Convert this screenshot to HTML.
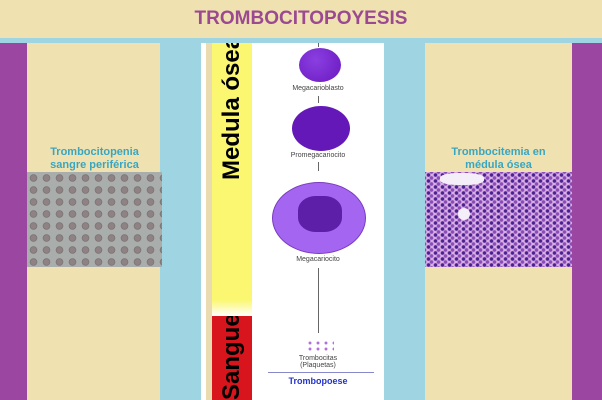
<!DOCTYPE html>
<html><head><style>
*{margin:0;padding:0}
html,body{width:602px;height:400px;overflow:hidden}
body{position:relative;background:#efe2b0;font-family:"Liberation Sans",sans-serif}
div{position:absolute}
.t{font-weight:bold;text-align:center}
.l{font-size:7px;color:#444;text-align:center;width:120px}
</style></head><body>
<div class="t" style="left:0;top:8px;width:602px;font-size:19px;color:#9b4a92">TROMBOCITOPOYESIS</div>
<div style="left:0;top:38px;width:602px;height:5px;background:#9fd5e3"></div>
<div style="left:0;top:43px;width:27px;height:357px;background:#9b46a0"></div>
<div style="left:572px;top:43px;width:30px;height:357px;background:#9b46a0"></div>
<div style="left:160px;top:43px;width:265px;height:357px;background:#9fd5e3"></div>
<div style="left:201px;top:43px;width:183px;height:357px;background:#fff"></div>
<div style="left:206px;top:43px;width:6px;height:357px;background:#eadcb0"></div>
<div style="left:212px;top:43px;width:40px;height:262px;background:#fbf770"></div>
<div style="left:212px;top:300px;width:40px;height:16px;background:linear-gradient(#fbf770,#fff)"></div>
<div style="left:212px;top:316px;width:40px;height:84px;background:#d8141c"></div>
<div style="left:212px;top:43px;width:40px;height:140px;overflow:hidden"><div style="left:-65px;top:37px;width:170px;height:30px;transform:rotate(-90deg);font-size:24px;font-weight:bold;text-align:left;color:#000;line-height:30px;white-space:nowrap">Medula ósea</div></div>
<div style="left:212px;top:316px;width:40px;height:84px;overflow:hidden"><div style="left:-40px;top:9px;width:120px;height:30px;transform:rotate(-90deg);font-size:24px;font-weight:bold;text-align:left;color:#000;line-height:30px;white-space:nowrap">Sangue</div></div>
<!-- cells -->
<div style="left:318px;top:43px;width:1px;height:4px;background:#666"></div>
<div style="left:299px;top:48px;width:42px;height:34px;border-radius:50%;background:radial-gradient(circle at 40% 35%,#8a3fe0,#6a18c0)"></div>
<div class="l" style="left:258px;top:85px">Megacarioblasto</div>
<div style="left:318px;top:96px;width:1px;height:7px;background:#666"></div>
<div style="left:292px;top:106px;width:58px;height:45px;border-radius:50%;background:#6418b8"></div>
<div class="l" style="left:258px;top:152px">Promegacariocito</div>
<div style="left:318px;top:162px;width:1px;height:9px;background:#666"></div>
<div style="left:272px;top:182px;width:92px;height:70px;border-radius:50%;background:#a465f0;border:1px solid #7a3ac0"></div>
<div style="left:298px;top:196px;width:44px;height:36px;border-radius:40%;background:#5d1ea8"></div>
<div class="l" style="left:258px;top:256px">Megacariocito</div>
<div style="left:318px;top:268px;width:1px;height:65px;background:#666"></div>
<div style="left:306px;top:340px;width:28px;height:12px;background:radial-gradient(circle,#b070e0 1.2px,transparent 1.8px) 0 0/8px 6px"></div>
<div class="l" style="left:258px;top:355px">Trombocitas<br>(Plaquetas)</div>
<div style="left:268px;top:372px;width:106px;height:1px;background:#88c"></div>
<div style="left:258px;top:376px;width:120px;text-align:center;font-size:9px;font-weight:bold;color:#2233cc">Trombopoese</div>
<!-- side -->
<div class="t" style="left:27px;top:146px;width:135px;font-size:11px;color:#3aa5c0;line-height:13px">Trombocitopenia<br>sangre periférica</div>
<div style="left:27px;top:172px;width:135px;height:95px;background:#a9adab radial-gradient(circle,#8e8284 2.5px,#7a7272 3.5px,transparent 4px) 0 0/13px 12px"></div>
<div class="t" style="left:425px;top:146px;width:147px;font-size:11px;color:#3aa5c0;line-height:13px">Trombocitemia en<br>médula ósea</div>
<div style="left:425px;top:172px;width:147px;height:95px;background:radial-gradient(circle,#4a2090 1.3px,transparent 2.3px) 0 0/7px 6px,radial-gradient(circle,#8a4ab8 1.3px,transparent 2.3px) 3px 3px/7px 6px,#d8b0e4"></div>
<div style="left:440px;top:173px;width:44px;height:12px;background:#f4eef8;border-radius:40%"></div>
<div style="left:458px;top:208px;width:12px;height:12px;background:#f4eef8;border-radius:50%"></div>
</body></html>
